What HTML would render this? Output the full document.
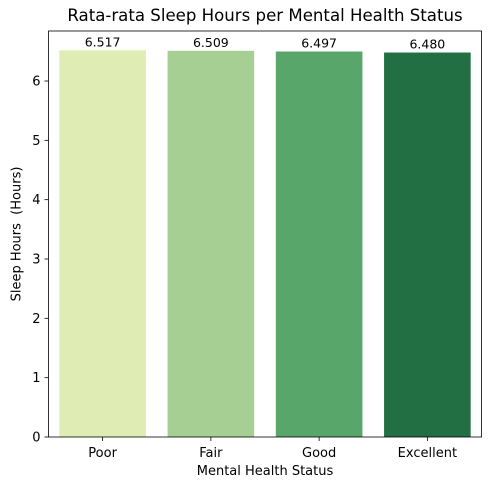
<!DOCTYPE html>
<html><head><meta charset="utf-8"><style>body{margin:0;background:#fff}svg{display:block;font-family:"DejaVu Sans","Liberation Sans",sans-serif}</style></head>
<body>
<svg id="chart" width="490" height="490"></svg>
<script>
const categories=["Poor","Fair","Good","Excellent"];
const values=[6.517,6.509,6.497,6.480];
const valueLabels=["6.517","6.509","6.497","6.480"];
const colors=["#dfedb5","#a6d093","#58a66a","#216f42"];
const yTicks=[0,1,2,3,4,5,6];
const NS="http://www.w3.org/2000/svg";
const svg=document.getElementById('chart');
const L=48.5,R=481.5,T=31,B=437;
const yMax=Math.max(...values)*1.05;
const x=i=>L+(i+0.5)*(R-L)/categories.length;
const y=v=>B-v/yMax*(B-T);
const bw=0.8*(R-L)/categories.length;
function mk(tag,attrs,txt){const e=document.createElementNS(NS,tag);for(const k in attrs)e.setAttribute(k,attrs[k]);if(txt!==undefined)e.textContent=txt;svg.appendChild(e);return e;}
categories.forEach((c,i)=>{
 const r=mk('rect',{x:x(i)-bw/2,y:y(values[i]),width:bw,height:B-y(values[i]),fill:colors[i]});
 
 
 const t=mk('text',{x:x(i),y:y(values[i])-4,'text-anchor':'middle','font-size':12.5,fill:'#000'},valueLabels[i]);
 
 
 mk('line',{x1:x(i),x2:x(i),y1:B,y2:B+4,stroke:'#000','stroke-width':0.8});
 const tl=mk('text',{x:x(i),y:B+20,'text-anchor':'middle','font-size':13},c);
 
 
});
yTicks.forEach(v=>{
 mk('line',{x1:L-4,x2:L,y1:y(v),y2:y(v),stroke:'#000','stroke-width':0.8});
 const tl=mk('text',{x:L-8,y:y(v)+4.5,'text-anchor':'end','font-size':13},String(v));
 
 
});
const f=mk('rect',{x:L,y:T,width:R-L,height:B-T,fill:'none',stroke:'#000','stroke-width':0.8});


</script>
<div style="position:absolute;left:0;top:0;width:490px;height:490px;pointer-events:none;font-family:'DejaVu Sans','Liberation Sans',sans-serif">
<div style="position:absolute;left:0;width:530px;top:6px;text-align:center;font-size:16.6px;white-space:nowrap">Rata-rata Sleep Hours per Mental Health Status</div>
<div style="position:absolute;left:48px;width:434px;top:464px;text-align:center;font-size:13px">Mental Health Status</div>
<div style="position:absolute;left:17px;top:234px;width:0;height:0"><div style="position:absolute;transform:translate(-50%,-50%) rotate(-90deg);white-space:pre;font-size:13px">Sleep Hours  (Hours)</div></div>
</div>
</body></html>
